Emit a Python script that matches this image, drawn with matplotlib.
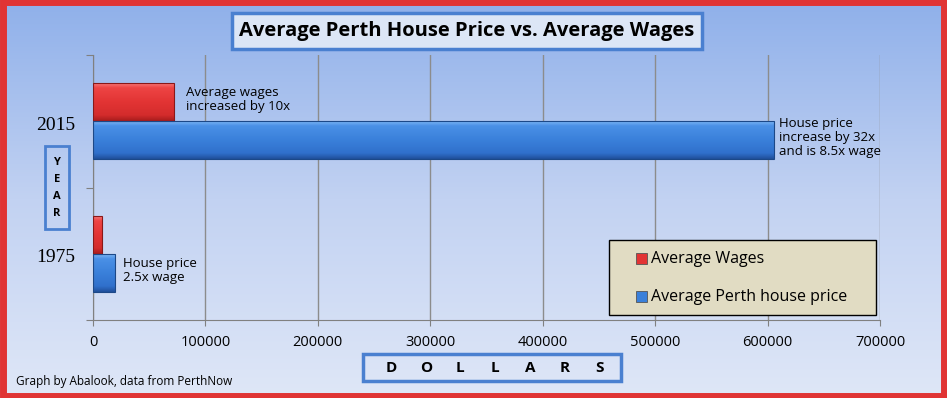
import numpy as np
import matplotlib.pyplot as plt
from matplotlib.colors import LinearSegmentedColormap
from matplotlib.patches import Rectangle

years = ["1975", "2015"]
wages = [8000, 72000]
house = [20000, 606000]
series_names = ["Average Wages", "Average Perth house price"]
series_colors = ["#e23434", "#3a80da"]
notes = ["House price\n2.5x wage", "Average wages\nincreased by 10x",
         "House price\nincrease by 32x\nand is 8.5x wage"]
xticks = [0, 100000, 200000, 300000, 400000, 500000, 600000, 700000]
axis_letters = list("DOLLARS")

W, H = 947, 398
fig = plt.figure(figsize=(W / 100, H / 100), dpi=100)

# background gradient, blue at the top, pale at the bottom
bg = fig.add_axes([0, 0, 1, 1], zorder=-10)
grad = np.linspace(0, 1, 256).reshape(-1, 1)
bg_cmap = LinearSegmentedColormap.from_list("bg", ["#8fb0ea", "#c2d2f2", "#dfe7f7"])
bg.imshow(grad, aspect="auto", cmap=bg_cmap, extent=[0, 1, 0, 1], origin="lower")
bg.set_xlim(0, 1)
bg.set_ylim(1, 0)
bg.axis("off")
bg.add_patch(Rectangle((0.003, 0.006), 0.994, 0.988, fill=False, ec="#e03434",
                       lw=5, transform=bg.transAxes))

ax = fig.add_axes([93 / W, 1 - 320 / H, (880 - 93) / W, (320 - 55) / H])
ax.set_facecolor("none")

red_cmap = LinearSegmentedColormap.from_list(
    "r", [(0, "#f67676"), (0.12, "#ee4444"), (0.5, "#e23434"), (0.85, "#d42c2c"), (1, "#a81c1c")])
blue_cmap = LinearSegmentedColormap.from_list(
    "b", [(0, "#7ab4f4"), (0.12, "#4a90e6"), (0.5, "#3a80da"), (0.85, "#3070cc"), (1, "#20509c")])

ypos = np.arange(len(years))
bh = 0.286

def grad_bars(ys, vals, cmap, edge):
    bars = ax.barh(ys, vals, height=bh, color="none", edgecolor=edge, lw=0.8, zorder=3)
    for b in bars:
        x0, y0 = b.get_x(), b.get_y()
        im = ax.imshow(np.linspace(0, 1, 64).reshape(-1, 1), cmap=cmap, aspect="auto",
                       extent=[x0, x0 + b.get_width(), y0, y0 + b.get_height()],
                       zorder=2, origin="upper")
        im.set_clip_path(b)
    return bars

r_bars = grad_bars(ypos + bh / 2, wages, red_cmap, "#8a1818")
b_bars = grad_bars(ypos - bh / 2, house, blue_cmap, "#1c4888")

ax.set_xlim(0, 700000)
ax.set_ylim(-0.5, 1.5)
ax.set_xticks(xticks)
ax.set_xticklabels([str(v) for v in xticks], fontsize=10.5, family="Open Sans")
ax.tick_params(axis="x", length=4, color="#808080", pad=7)
ax.xaxis.grid(True, color="#8c8c8c", lw=1)
ax.set_axisbelow(True)
ax.set_yticks([-0.5, 0.5, 1.5])
ax.set_yticklabels([])
ax.tick_params(axis="y", length=5, color="#808080", direction="out")
for s in ["top", "right"]:
    ax.spines[s].set_visible(False)
for s in ["left", "bottom"]:
    ax.spines[s].set_color("#808080")
for i, y in enumerate(years):
    ax.text(-0.023, ypos[i] - 0.03, y, transform=ax.get_yaxis_transform(), ha="right",
            va="center", fontsize=14, family="Liberation Serif")

# annotations
ax.text(wages[1] + 11000, 1 + bh / 2 + 0.02, notes[1], fontsize=9.5, family="Open Sans",
        va="center", ha="left", linespacing=1.1)
ax.text(house[1] + 4000, 1 - bh / 2 + 0.02, notes[2], fontsize=9.5, family="Open Sans",
        va="center", ha="left", linespacing=1.1)
ax.text(house[0] + 7000, 0 - bh / 2 + 0.02, notes[0], fontsize=9.5, family="Open Sans",
        va="center", ha="left", linespacing=1.1)

# legend, drawn by hand to match the box proportions
fig.add_artist(Rectangle((609 / W, 1 - 315 / H), 267 / W, 75 / H, fc="#e1dcc3",
                         ec="black", lw=1, transform=fig.transFigure, zorder=5))
for i, (name, col) in enumerate(zip(series_names, series_colors)):
    yc = 259 + i * 38
    fig.add_artist(Rectangle((636 / W, 1 - (yc + 5) / H), 11 / W, 11 / H, fc=col,
                             ec="#555555", lw=0.6, transform=fig.transFigure, zorder=6))
    fig.text(651 / W, 1 - yc / H, name, ha="left", va="center", fontsize=11.5,
             family="Open Sans", zorder=6)

# title box
fig.text(467 / W, 1 - 31 / H, "Average Perth House Price vs. Average Wages",
         ha="center", va="center", fontsize=14.5, fontweight="bold", family="Open Sans",
         bbox=dict(boxstyle="square,pad=0.38", fc="#dce6f6", ec="#4a80d0", lw=2.5))

# year box
fig.add_artist(Rectangle((45 / W, 1 - 229 / H), 24 / W, 83 / H, fill=False,
                         ec="#4a80d0", lw=2, transform=fig.transFigure))
fig.text(57 / W, 1 - 188 / H, "Y\nE\nA\nR", ha="center", va="center", fontsize=8,
         fontweight="bold", family="Open Sans", linespacing=1.75)

# dollars box
fig.add_artist(Rectangle((363 / W, 1 - 381 / H), 258 / W, 27 / H, fill=False,
                         ec="#4a80d0", lw=2.5, transform=fig.transFigure))
for i, ch in enumerate(axis_letters):
    fig.text((391 + i * 34.7) / W, 1 - 368 / H, ch, ha="center", va="center",
             fontsize=11, fontweight="bold", family="Open Sans")

fig.text(16 / W, 1 - 381 / H, "Graph by Abalook, data from PerthNow", fontsize=8.5,
         family="Open Sans", va="center", ha="left")

fig.savefig("out.png", dpi=100)
